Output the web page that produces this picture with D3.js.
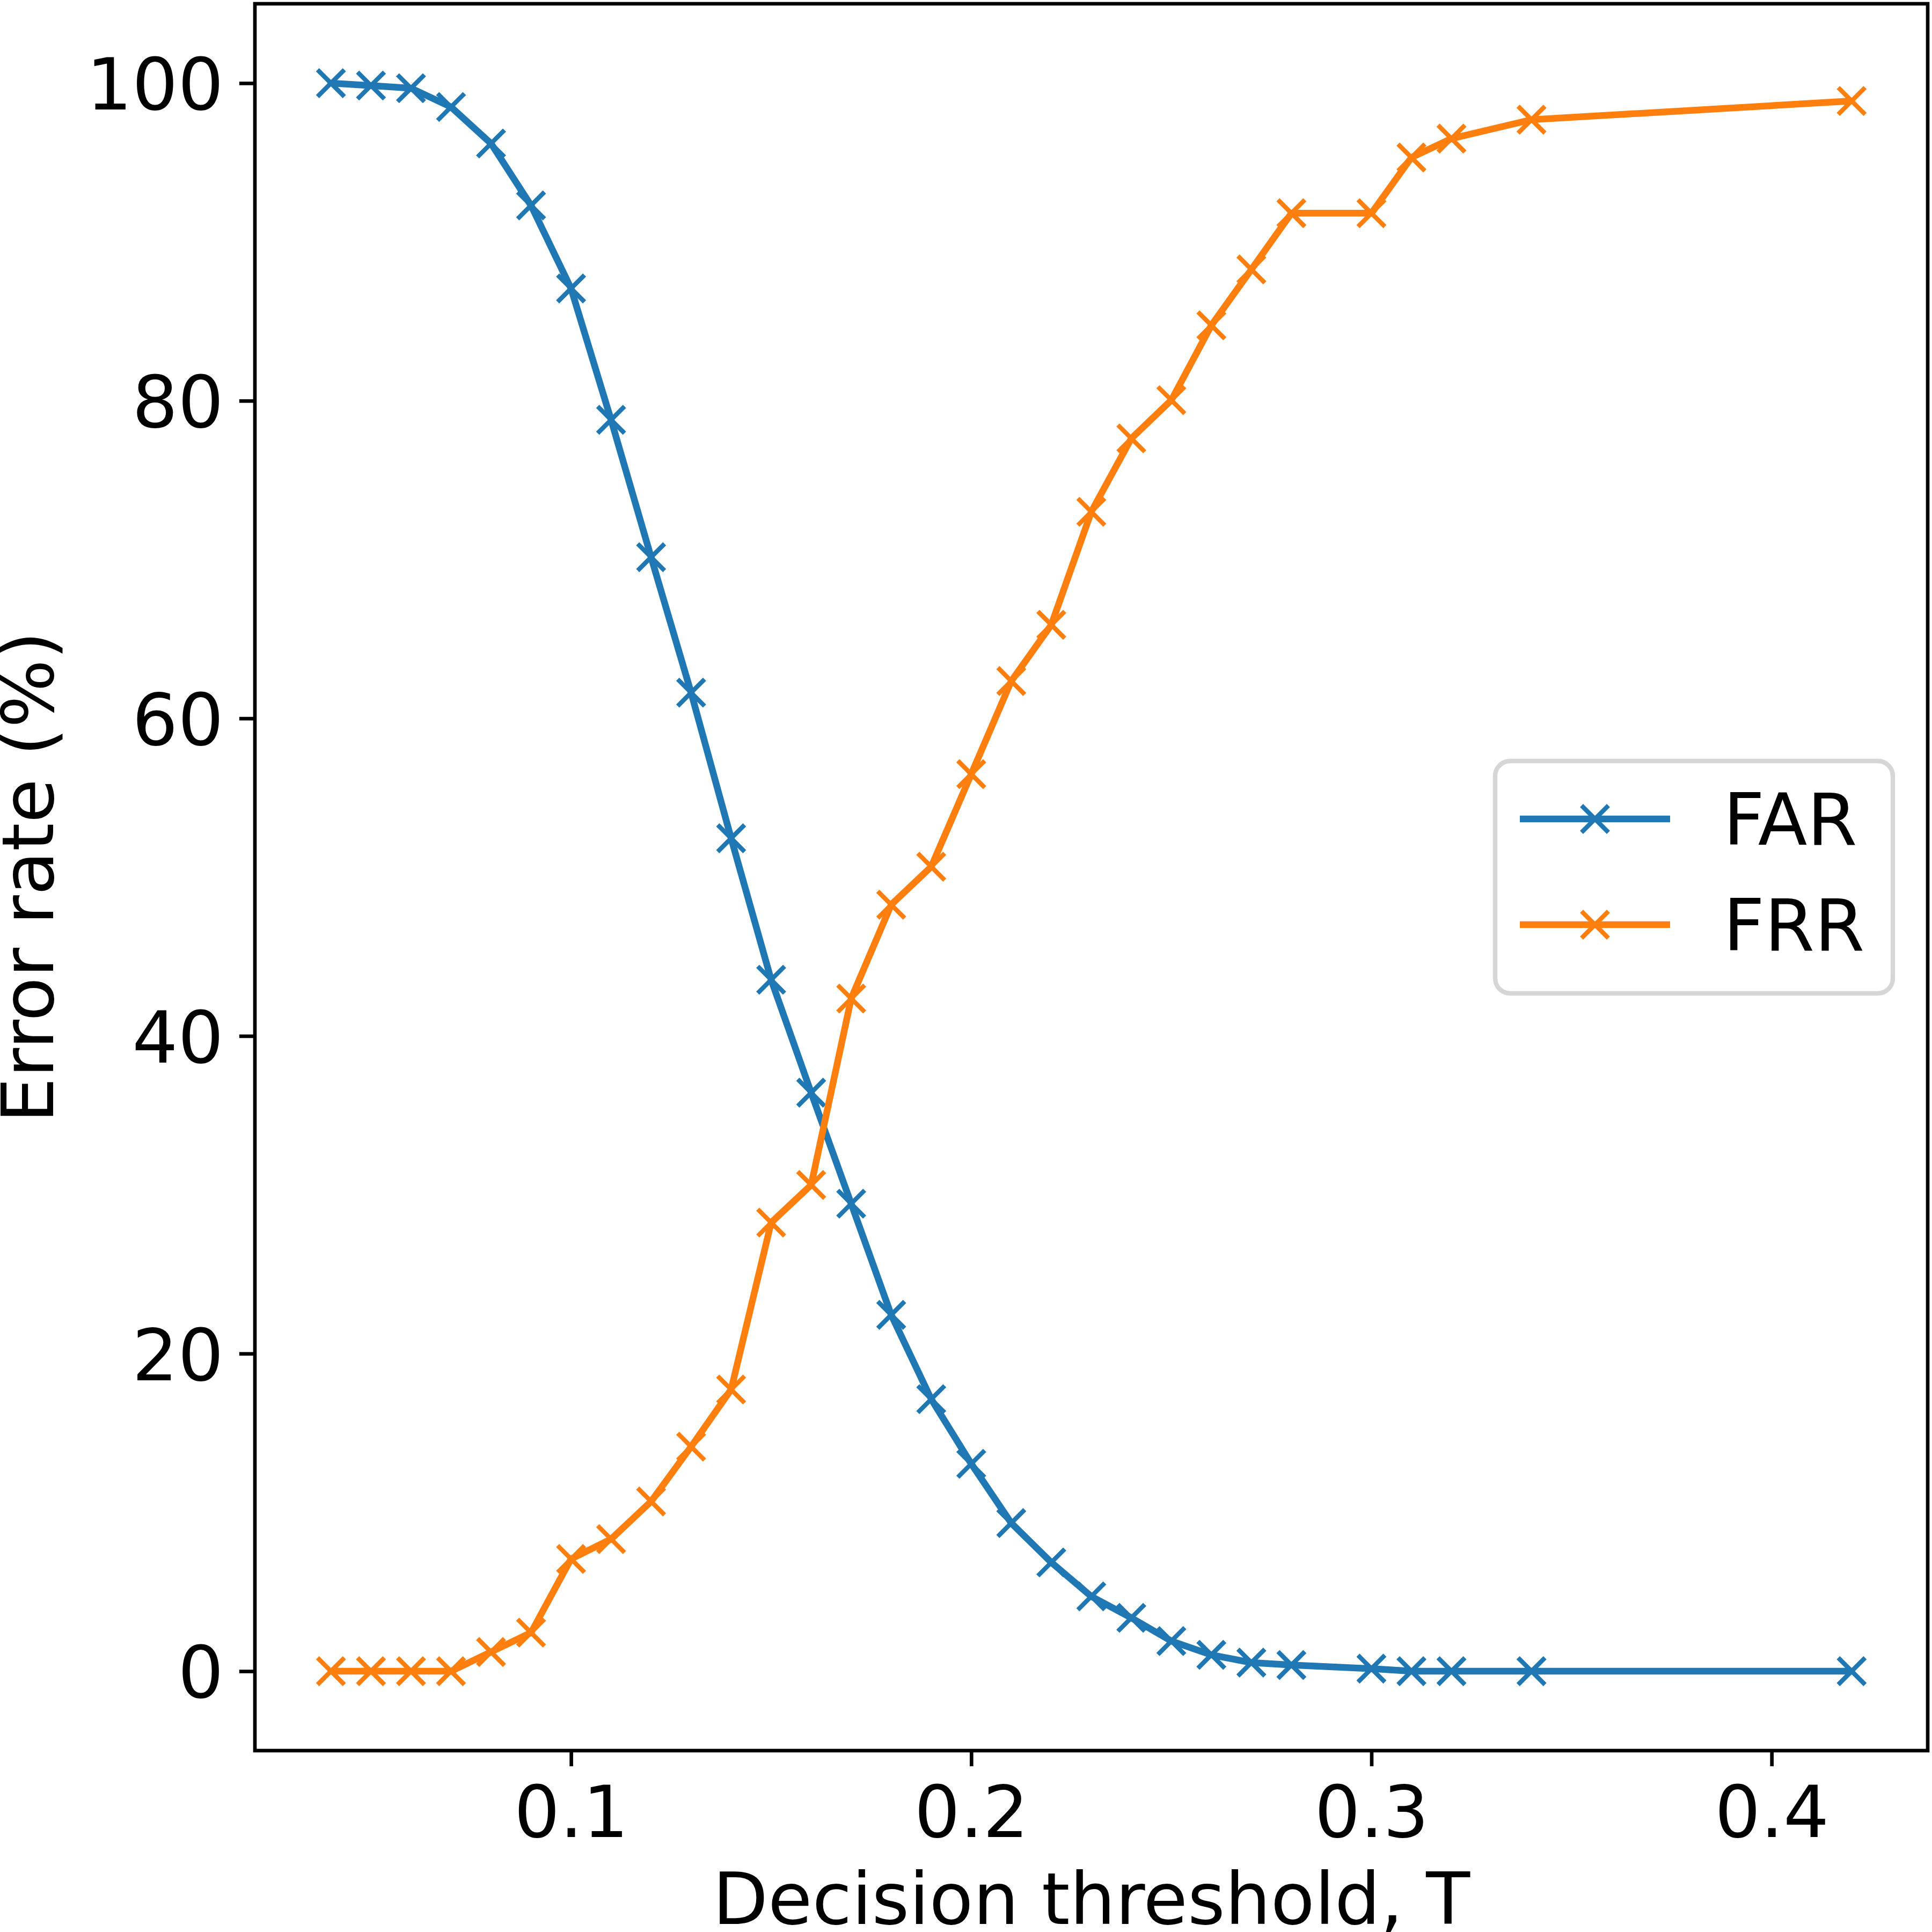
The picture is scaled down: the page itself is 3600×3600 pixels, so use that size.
<!DOCTYPE html>
<html>
<head>
<meta charset="utf-8">
<script src="https://cdn.jsdelivr.net/npm/d3@7"></script>
<style>
    body { margin: 0; background: #fff; }
    svg { display: block; font-family: 'DejaVu Sans', sans-serif; }
</style>
</head>
<body>
<svg id="chart"></svg>
<script>
// Decision thresholds on the x axis
const thresholds = [0.04, 0.05, 0.06, 0.07, 0.08, 0.09, 0.10, 0.11, 0.12, 0.13, 0.14, 0.15, 0.16, 0.17,
    0.18, 0.19, 0.20, 0.21, 0.22, 0.23, 0.24, 0.25, 0.26, 0.27, 0.28, 0.30, 0.31, 0.32, 0.34, 0.42];

// False acceptance rate (%)
const farValues = [100.0, 99.85, 99.68, 98.5, 96.2, 92.3, 87.07, 78.8, 70.15, 61.62, 52.45, 43.54, 36.43, 29.44,
    22.44, 17.13, 13.06, 9.33, 6.85, 4.71, 3.36, 1.90, 1.03, 0.54, 0.39, 0.16, 0.0, 0.0, 0.0, 0.0];

// False rejection rate (%)
const frrValues = [0, 0, 0, 0, 1.21, 2.43, 7.07, 8.32, 10.69, 14.14, 17.74, 28.25, 30.62, 42.36,
    48.27, 50.66, 56.49, 62.35, 65.89, 73.01, 77.63, 80.04, 84.75, 88.27, 91.81, 91.81, 95.32, 96.51, 97.70, 98.88];

const seriesNames = ['FAR', 'FRR'];
const seriesColors = ['#1f77b4', '#ff7f0e'];
const xTicks = [0.1, 0.2, 0.3, 0.4];
const yTicks = [0, 20, 40, 60, 80, 100];

class ErrorRateChart {
    constructor(_config) {
        this.config = {
            parentElement: _config.parentElement,
            containerWidth: _config.containerWidth || 3600,
            containerHeight: _config.containerHeight || 3600,
            margin: {top: 7, right: 8, bottom: 338, left: 475},
        };
        this.pt = 600 / 72; // figure was rendered at 600 dpi
        this.fontSize = 134;
        this.fontFamily = "'DejaVu Sans', sans-serif";
        this.initVis();
    }

    initVis() {
        let vis = this;
        const pt = vis.pt;

        vis.width = vis.config.containerWidth - vis.config.margin.left - vis.config.margin.right;
        vis.height = vis.config.containerHeight - vis.config.margin.top - vis.config.margin.bottom;

        vis.svg = d3.select(vis.config.parentElement)
            .attr('width', vis.config.containerWidth)
            .attr('height', vis.config.containerHeight);

        vis.chart = vis.svg.append('g')
            .attr('transform', `translate(${vis.config.margin.left},${vis.config.margin.top})`);

        // matplotlib-style 5% margins around the data
        const xExt = d3.extent(thresholds);
        const xPad = (xExt[1] - xExt[0]) * 0.05;
        vis.xScale = d3.scaleLinear()
            .domain([xExt[0] - xPad, xExt[1] + xPad])
            .range([0, vis.width]);
        vis.yScale = d3.scaleLinear()
            .domain([-5, 105])
            .range([vis.height, 0]);

        // Axes
        vis.xAxis = d3.axisBottom(vis.xScale)
            .tickValues(xTicks)
            .tickFormat(d3.format('.1f'))
            .tickSize(3.5 * pt)
            .tickSizeOuter(0)
            .tickPadding(3.5 * pt);
        vis.yAxis = d3.axisLeft(vis.yScale)
            .tickValues(yTicks)
            .tickFormat(d3.format('d'))
            .tickSize(3.5 * pt)
            .tickSizeOuter(0)
            .tickPadding(3.5 * pt);

        vis.xAxisG = vis.chart.append('g')
            .attr('transform', `translate(0,${vis.height})`)
            .call(vis.xAxis);
        vis.yAxisG = vis.chart.append('g')
            .call(vis.yAxis);

        // d3 puts its own font on axis groups, so override it
        [vis.xAxisG, vis.yAxisG].forEach(g => {
            g.attr('font-family', vis.fontFamily)
                .attr('font-size', vis.fontSize);
            g.select('.domain').remove();
            g.selectAll('.tick line')
                .attr('stroke', '#000')
                .attr('stroke-width', 0.8 * pt);
            g.selectAll('.tick text')
                .attr('fill', '#000');
        });
        vis.xAxisG.selectAll('.tick text')
            .attr('y', 161)
            .attr('dy', null);
        vis.yAxisG.selectAll('.tick text')
            .attr('dy', '0.365em');

        // Axis titles
        vis.svg.append('text')
            .attr('x', vis.config.margin.left + vis.width / 2)
            .attr('y', 3585)
            .attr('text-anchor', 'middle')
            .attr('font-size', vis.fontSize)
            .text('Decision threshold, T');

        vis.svg.append('text')
            .attr('transform', `translate(99,${vis.config.margin.top + vis.height / 2}) rotate(-90)`)
            .attr('text-anchor', 'middle')
            .attr('font-size', vis.fontSize)
            .text('Error rate (%)');

        vis.renderVis();
    }

    renderVis() {
        let vis = this;
        const pt = vis.pt;
        const ms = 3 * pt; // half of the 6pt marker

        const series = [farValues, frrValues].map((vals, i) => ({
            name: seriesNames[i],
            color: seriesColors[i],
            points: thresholds.map((t, j) => ({x: t, y: vals[j]}))
        }));

        const line = d3.line()
            .x(d => vis.xScale(d.x))
            .y(d => vis.yScale(d.y));

        const groups = vis.chart.selectAll('.series')
            .data(series)
            .join('g')
                .attr('class', 'series');

        groups.append('path')
            .attr('d', d => line(d.points))
            .attr('fill', 'none')
            .attr('stroke', d => d.color)
            .attr('stroke-width', 1.5 * pt)
            .attr('stroke-linejoin', 'round')
            .attr('stroke-linecap', 'square');

        groups.each(function(s) {
            d3.select(this).selectAll('.marker')
                .data(s.points)
                .join('path')
                    .attr('class', 'marker')
                    .attr('d', `M${-ms},${-ms}L${ms},${ms}M${-ms},${ms}L${ms},${-ms}`)
                    .attr('transform', d => `translate(${vis.xScale(d.x)},${vis.yScale(d.y)})`)
                    .attr('stroke', s.color)
                    .attr('stroke-width', pt)
                    .attr('fill', 'none');
        });

        // Axes frame drawn over the data
        vis.chart.append('rect')
            .attr('width', vis.width)
            .attr('height', vis.height)
            .attr('fill', 'none')
            .attr('stroke', '#000')
            .attr('stroke-width', 0.8 * pt);

        // Legend
        const legend = vis.svg.append('g')
            .attr('transform', 'translate(2786,1418)');

        legend.append('rect')
            .attr('width', 741)
            .attr('height', 433)
            .attr('rx', 28)
            .attr('fill', '#fff')
            .attr('fill-opacity', 0.8)
            .attr('stroke', '#d6d6d6')
            .attr('stroke-width', pt);

        const items = legend.selectAll('.legend-item')
            .data(series)
            .join('g')
                .attr('class', 'legend-item')
                .attr('transform', (d, i) => `translate(0,${108 + i * 197})`);

        items.append('line')
            .attr('x1', 46)
            .attr('x2', 326)
            .attr('stroke', d => d.color)
            .attr('stroke-width', 1.5 * pt);

        items.append('path')
            .attr('d', `M${-ms},${-ms}L${ms},${ms}M${-ms},${ms}L${ms},${-ms}`)
            .attr('transform', 'translate(186,0)')
            .attr('stroke', d => d.color)
            .attr('stroke-width', pt)
            .attr('fill', 'none');

        items.append('text')
            .attr('x', 425)
            .attr('y', 48)
            .attr('font-size', vis.fontSize)
            .attr('fill', '#000')
            .text(d => d.name);
    }
}

const chart = new ErrorRateChart({parentElement: '#chart'});
</script>
</body>
</html>
